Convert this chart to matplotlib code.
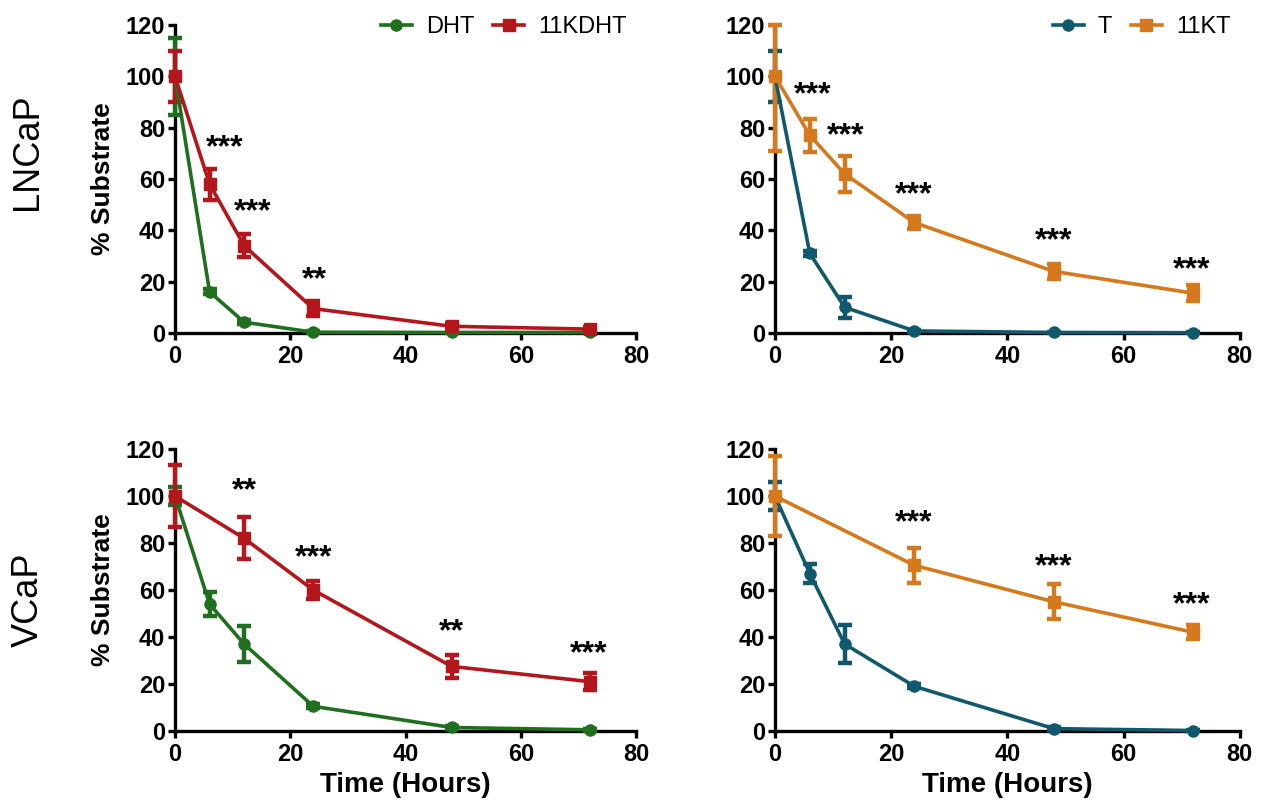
import numpy as np
import matplotlib.pyplot as plt

plt.rcParams['font.family'] = ['Liberation Sans', 'DejaVu Sans']

# time points (hours)
t_all = [0, 6, 12, 24, 48, 72]

# LNCaP
lncap_dht = [100, 16, 4.2, 0.3, 0.2, 0.2]
lncap_dht_err = [15, 1, 0.8, 0.3, 0.2, 0.2]
lncap_11kdht = [100, 58, 34, 9.5, 2.6, 1.5]
lncap_11kdht_err = [10, 6, 4.5, 3, 1.2, 1]
lncap_t = [100, 31, 10, 0.8, 0.2, 0.1]
lncap_t_err = [10, 1, 4, 0.5, 0.2, 0.1]
lncap_11kt = [100, 77, 62, 43, 24, 15.5]
lncap_11kt_err_lo = [29, 6.5, 7, 2.5, 3, 3]
lncap_11kt_err_hi = [20, 6.5, 7, 2.5, 3, 3]

# VCaP
vcap_dht = [100, 54, 37, 10.5, 1.5, 0.5]
vcap_dht_err = [4, 5, 7.5, 0.8, 0.5, 0.3]
t_vcap_11kdht = [0, 12, 24, 48, 72]
vcap_11kdht = [100, 82, 60, 27.5, 21]
vcap_11kdht_err = [13, 9, 4, 5, 3.5]
vcap_t = [100, 67, 37, 19, 1, 0.2]
vcap_t_err = [6, 4, 8, 0.8, 0.5, 0.2]
t_vcap_11kt = [0, 24, 48, 72]
vcap_11kt = [100, 70.5, 55, 42]
vcap_11kt_err = [17, 7.5, 7.5, 3]

# significance marks (x, y, text)
stars_tl = [(8.6, 72, '***'), (13.5, 47, '***'), (24.2, 20.7, '**')]
stars_tr = [(6.5, 92.7, '***'), (12.2, 76.5, '***'), (23.9, 53.8, '***'),
            (47.9, 35.7, '***'), (71.8, 24.6, '***')]
stars_bl = [(12, 102, '**'), (24, 73.7, '***'), (48, 42, '**'), (71.8, 32.8, '***')]
stars_br = [(23.9, 88.6, '***'), (47.9, 69.8, '***'), (71.8, 53.6, '***')]

green = '#1f6f1f'
red = '#b3161b'
teal = '#10596d'
orange = '#d6791c'

fig = plt.figure(figsize=(12.7, 8.01), dpi=100)
ax_tl = fig.add_axes([0.1378, 0.5843, 0.363, 0.3845])
ax_tr = fig.add_axes([0.6102, 0.5843, 0.366, 0.3845])
ax_bl = fig.add_axes([0.1378, 0.0874, 0.363, 0.352])
ax_br = fig.add_axes([0.6102, 0.0874, 0.366, 0.352])


def series(ax, x, y, err, color, marker, ms, label):
    ax.errorbar(x, y, yerr=err, color=color, marker=marker,
                ms=ms, lw=2.6, elinewidth=3.2, capsize=5,
                capthick=3.2, label=label, clip_on=False, zorder=3)


def style(ax, stars):
    ax.set_xlim(0, 80)
    ax.set_ylim(0, 120)
    ax.set_xticks([0, 20, 40, 60, 80])
    ax.set_yticks([0, 20, 40, 60, 80, 100, 120])
    for s in ['top', 'right']:
        ax.spines[s].set_visible(False)
    for s in ['left', 'bottom']:
        ax.spines[s].set_linewidth(2.4)
    ax.tick_params(width=2.4, length=5, labelsize=17, pad=2)
    ax.tick_params(axis='x', pad=4)
    for lab in ax.get_xticklabels() + ax.get_yticklabels():
        lab.set_fontweight('bold')
    for x, y, s in stars:
        ax.text(x, y, s, ha='center', va='center', fontsize=23, fontweight='bold')


series(ax_tl, t_all, lncap_dht, lncap_dht_err, green, 'o', 8, 'DHT')
series(ax_tl, t_all, lncap_11kdht, lncap_11kdht_err, red, 's', 9, '11KDHT')
series(ax_tr, t_all, lncap_t, lncap_t_err, teal, 'o', 8, 'T')
series(ax_tr, t_all, lncap_11kt, [lncap_11kt_err_lo, lncap_11kt_err_hi], orange, 's', 9, '11KT')
series(ax_bl, t_all, vcap_dht, vcap_dht_err, green, 'o', 8, 'DHT')
series(ax_bl, t_vcap_11kdht, vcap_11kdht, vcap_11kdht_err, red, 's', 9, '11KDHT')
series(ax_br, t_all, vcap_t, vcap_t_err, teal, 'o', 8, 'T')
series(ax_br, t_vcap_11kt, vcap_11kt, vcap_11kt_err, orange, 's', 9, '11KT')

style(ax_tl, stars_tl)
style(ax_tr, stars_tr)
style(ax_bl, stars_bl)
style(ax_br, stars_br)

for ax in [ax_tl, ax_tr]:
    h, l = ax.get_legend_handles_labels()
    h = [x[0] for x in h]
    ax.legend(h, l, ncol=2, loc='upper right', bbox_to_anchor=(1.0, 1.06),
              frameon=False, fontsize=17, handlelength=1.3, columnspacing=0.8,
              handletextpad=0.6, borderaxespad=0)

for ax in [ax_tl, ax_bl]:
    ax.set_ylabel('% Substrate', fontsize=19, fontweight='bold', labelpad=8)
for ax in [ax_bl, ax_br]:
    ax.set_xlabel('Time (Hours)', fontsize=20, fontweight='bold', labelpad=4)

fig.text(0.022, 1 - 152 / 801, 'LNCaP', rotation=90, ha='center', va='center', fontsize=26)
fig.text(0.022, 1 - 600 / 801, 'VCaP', rotation=90, ha='center', va='center', fontsize=26)

fig.savefig('out.png', dpi=100)
